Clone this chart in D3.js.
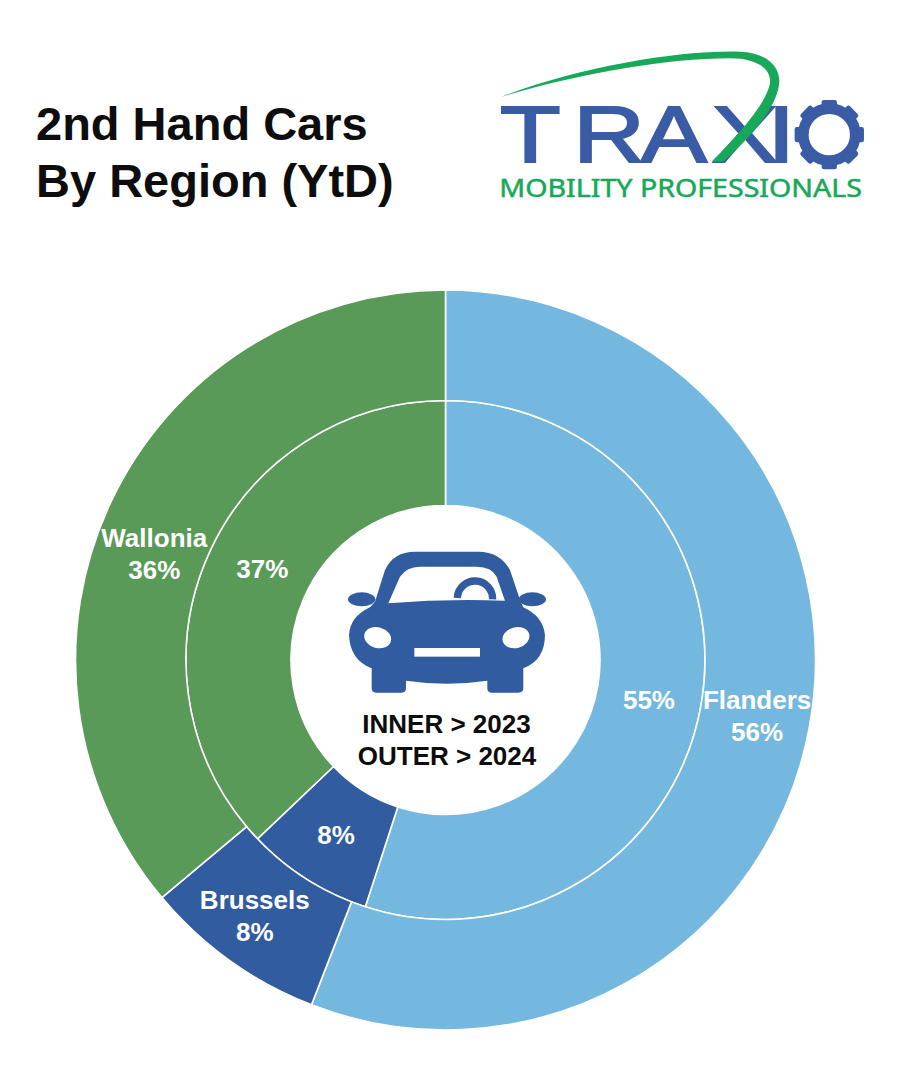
<!DOCTYPE html>
<html>
<head>
<meta charset="utf-8">
<script src="https://cdn.jsdelivr.net/npm/d3@7"></script>
<style>
	body { margin: 0; background: #fff; }
	text { font-family: 'Liberation Sans', Arial, sans-serif; }
</style>
</head>
<body>
<div class="donut_chart"></div>
<script>
const WIDTH = 907;
const HEIGHT = 1075;
const CENTER = { x: 445.5, y: 660 };
const RADIUS = { hole: 154.5, middle: 259.5, outer: 370 };

const regions = ['Flanders', 'Brussels', 'Wallonia'];
// slice sizes, labels round them
const share2023 = [55, 7.9, 37.1];
const share2024 = [55.9, 8, 36.1];
const regionColors = ['#74b8df', '#315c9f', '#599a58'];

const titleLines = ['2nd Hand Cars', 'By Region (YtD)'];
const centerLines = ['INNER > 2023', 'OUTER > 2024'];

// small nudges so labels sit where the original has them
const outerNudge = [[0, -1], [-6, -1], [-4, 29.5]];
const innerNudge = [[-1, 9], [1, 1], [7, -8]];

const svg = d3
	.select('.donut_chart')
	.append('svg')
	.attr('height', HEIGHT)
	.attr('width', WIDTH)
	.style('display', 'block');

// title
svg.selectAll('.title')
	.data(titleLines)
	.enter()
	.append('text')
	.attr('class', 'title')
	.attr('x', 36)
	.attr('y', (d, i) => 140 + i * 57)
	.attr('font-size', 47)
	.attr('font-weight', 700)
	.attr('fill', '#0d0d0d')
	.text(d => d);

// rings
const pie = d3.pie().sort(null).value(d => d);
const chart = svg.append('g').attr('transform', `translate(${CENTER.x}, ${CENTER.y})`);

function drawRing(values, inner, outer, labelRadius, nudge, withName) {
	const arc = d3.arc().innerRadius(inner).outerRadius(outer);
	const labelArc = d3.arc().innerRadius(labelRadius).outerRadius(labelRadius);
	const slices = pie(values);

	chart.append('g')
		.selectAll('path')
		.data(slices)
		.enter()
		.append('path')
		.attr('d', arc)
		.attr('fill', (d, i) => regionColors[i])
		.attr('stroke', '#fff')
		.attr('stroke-width', 1.6);

	const labels = chart.append('g')
		.selectAll('text')
		.data(slices)
		.enter()
		.append('text')
		.attr('text-anchor', 'middle')
		.attr('font-size', 26)
		.attr('font-weight', 700)
		.attr('fill', '#fff')
		.attr('transform', (d, i) => {
			const c = labelArc.centroid(d);
			return `translate(${c[0] + nudge[i][0]}, ${c[1] + nudge[i][1]})`;
		});

	if (withName) {
		labels.append('tspan')
			.attr('x', 0)
			.attr('y', -8)
			.text((d, i) => regions[i]);
		labels.append('tspan')
			.attr('x', 0)
			.attr('y', 24)
			.text(d => Math.round(d.value) + '%');
	} else {
		labels.append('tspan')
			.attr('x', 0)
			.attr('y', 8)
			.text(d => Math.round(d.value) + '%');
	}
}

drawRing(share2023, RADIUS.hole, RADIUS.middle, 207, innerNudge, false);
drawRing(share2024, RADIUS.middle, RADIUS.outer, 317, outerNudge, true);

// centre text
svg.selectAll('.center_text')
	.data(centerLines)
	.enter()
	.append('text')
	.attr('class', 'center_text')
	.attr('x', (d, i) => 446.5 + i * 0.5)
	.attr('y', (d, i) => 733 + i * 32)
	.attr('text-anchor', 'middle')
	.attr('font-size', 26)
	.attr('font-weight', 700)
	.attr('fill', '#0d0d0d')
	.text(d => d);

// car icon, traced at 3x
const CAR_BLUE = '#315c9f';
const car = svg.append('g').attr('transform', 'translate(300, 520) scale(0.3333)');

car.append('path')
	.attr('fill', CAR_BLUE)
	.attr('d', 'M225,245 L255,150 Q280,95 345,95 L535,95 Q600,95 630,150 L662,245 L670,262 Q730,290 735,345 Q735,420 670,445 L670,505 Q670,518 655,518 L575,518 Q562,518 562,505 L562,482 Q440,500 318,482 L318,505 Q318,518 305,518 L228,518 Q215,518 215,505 L215,445 Q150,420 147,345 Q150,290 210,262 Z');
car.selectAll('.mirror')
	.data([185, 697])
	.enter()
	.append('ellipse')
	.attr('cx', d => d)
	.attr('cy', 238)
	.attr('rx', 41)
	.attr('ry', 21)
	.attr('fill', CAR_BLUE);
car.append('path')
	.attr('fill', '#fff')
	.attr('d', 'M265,250 L300,170 Q320,140 360,140 L530,140 Q575,140 590,170 L615,242 Q440,235 265,250 Z');
car.append('path')
	.attr('fill', 'none')
	.attr('stroke', CAR_BLUE)
	.attr('stroke-width', 22)
	.attr('d', 'M472,234 A52,52 0 0 1 578,238');
car.selectAll('.lamp')
	.data([[233, 15], [648, -15]])
	.enter()
	.append('ellipse')
	.attr('rx', 41)
	.attr('ry', 31)
	.attr('fill', '#fff')
	.attr('transform', d => `translate(${d[0]}, 353) rotate(${d[1]})`);
car.append('rect')
	.attr('x', 343)
	.attr('y', 384)
	.attr('width', 197)
	.attr('height', 26)
	.attr('fill', '#fff');

// logo, traced at 3x
const LOGO_BLUE = '#3a5ba5';
const LOGO_GREEN = '#17a85a';
const logo = svg.append('g').attr('transform', 'translate(480, 30) scale(0.3333)');

logo.append('text')
	.attr('x', '48 224 386 556 690')
	.attr('y', 396)
	.attr('transform', 'scale(1.25, 1)')
	.attr('font-size', 238)
	.attr('fill', LOGO_BLUE)
	.attr('stroke', LOGO_BLUE)
	.attr('stroke-width', 6)
	.text('TRAXI');

logo.append('path')
	.attr('fill', LOGO_GREEN)
	.attr('d', 'M65,200 C300,110 600,60 780,65 C860,68 905,110 897,165 C885,250 790,340 730,395 L695,395 C770,320 860,220 870,160 C875,110 820,85 750,85 C560,85 300,130 65,200 Z');

const gear = logo.append('g').attr('transform', 'translate(1048, 314)');
gear.append('circle')
	.attr('r', 78)
	.attr('fill', 'none')
	.attr('stroke', LOGO_BLUE)
	.attr('stroke-width', 32);
gear.selectAll('rect')
	.data(d3.range(8))
	.enter()
	.append('rect')
	.attr('x', -23)
	.attr('y', -104)
	.attr('width', 46)
	.attr('height', 30)
	.attr('rx', 7)
	.attr('fill', LOGO_BLUE)
	.attr('transform', d => `rotate(${d * 45})`);

logo.append('text')
	.attr('x', 58)
	.attr('y', 500)
	.attr('font-size', 74)
	.attr('fill', LOGO_GREEN)
	.attr('stroke', LOGO_GREEN)
	.attr('stroke-width', 1.5)
	.style('font-family', "'Noto Sans', sans-serif")
	.attr('textLength', 1088)
	.attr('lengthAdjust', 'spacingAndGlyphs')
	.text('MOBILITY PROFESSIONALS');
</script>
</body>
</html>
